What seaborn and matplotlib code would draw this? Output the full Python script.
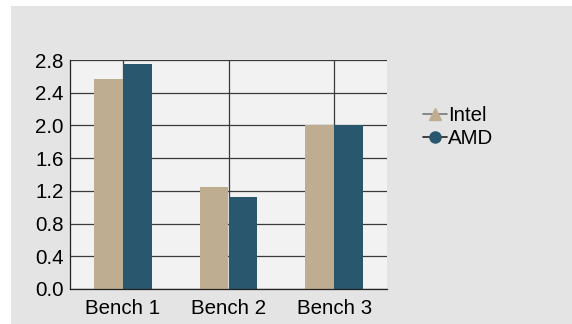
import matplotlib
matplotlib.use("Agg")
import matplotlib.pyplot as plt
from matplotlib.lines import Line2D
from matplotlib.patches import Rectangle
import pandas as pd
import seaborn as sns

benches = ["Bench 1", "Bench 2", "Bench 3"]
intel = [2.57, 1.25, 2.0]
amd = [2.75, 1.13, 2.0]
series = ["Intel", "AMD"]
colors = {"Intel": "#BFAD92", "AMD": "#29576E"}
yticks = [0.0, 0.4, 0.8, 1.2, 1.6, 2.0, 2.4, 2.8]

df = pd.DataFrame({
    "bench": benches * 2,
    "value": intel + amd,
    "cpu": ["Intel"] * len(benches) + ["AMD"] * len(benches),
})

sns.set_style("white")
plt.rcParams["font.family"] = ["Liberation Sans", "DejaVu Sans"]

fig = plt.figure(figsize=(5.72, 3.24), dpi=100, facecolor="white")
# grey panel behind the chart
fig.patches.append(Rectangle((11 / 572, 0), 1 - 11 / 572, 1 - 6 / 324,
                             transform=fig.transFigure, facecolor="#E4E4E4",
                             edgecolor="none", zorder=-10))

ax = fig.add_axes([70 / 572, 1 - 289 / 324, (387 - 70) / 572, (289 - 60) / 324])
ax.set_facecolor("#F2F2F2")

sns.barplot(data=df, x="bench", y="value", hue="cpu", hue_order=series,
            palette=colors, width=0.545, saturation=1, legend=False,
            linewidth=0, ax=ax)

ax.set_xlim(-0.5, 2.5)
ax.set_ylim(0, 2.8)
ax.set_yticks(yticks)
ax.set_yticklabels([f"{v:.1f}" for v in yticks])
ax.set_xlabel("")
ax.set_ylabel("")

ax.set_axisbelow(True)
ax.grid(True, color="#3A3A3A", linewidth=0.9)
for side in ("top", "right"):
    ax.spines[side].set_visible(False)
for side in ("left", "bottom"):
    ax.spines[side].set_color("#222222")
    ax.spines[side].set_linewidth(0.9)

ax.tick_params(axis="both", direction="out", length=4, width=0.9,
               color="#222222", labelsize=14.8, labelcolor="black")
ax.tick_params(axis="y", pad=0.5)
ax.tick_params(axis="x", pad=3)

handles = [
    Line2D([0], [0], color="#777777", lw=1.2, marker="^", markersize=8,
           markerfacecolor=colors["Intel"], markeredgecolor=colors["Intel"]),
    Line2D([0], [0], color="#222222", lw=1.2, marker="o", markersize=8,
           markerfacecolor=colors["AMD"], markeredgecolor=colors["AMD"]),
]
fig.legend(handles, series, loc="upper left",
           bbox_to_anchor=(423 / 572, 1 - 106 / 324), frameon=False,
           fontsize=14.8, handlelength=1.15, handletextpad=0.05,
           labelspacing=0.18, borderpad=0, borderaxespad=0,
           labelcolor="black")

fig.savefig("out.png", dpi=100, facecolor="white")
